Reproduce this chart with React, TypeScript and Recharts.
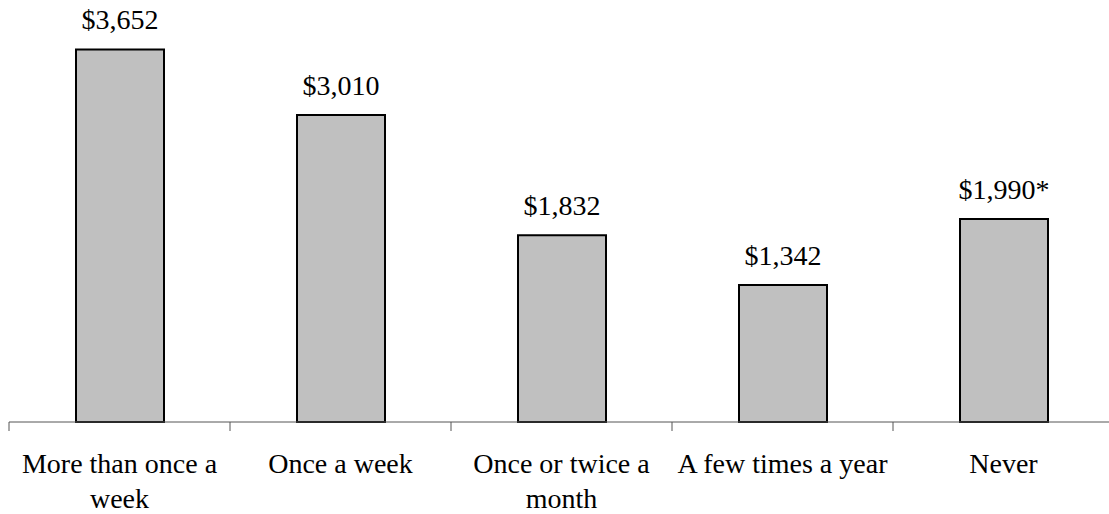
import React from "react";
import { BarChart, Bar, XAxis, YAxis, LabelList } from "recharts";

const categories = [
  "More than once a week",
  "Once a week",
  "Once or twice a month",
  "A few times a year",
  "Never",
];
const amounts = [3652, 3010, 1832, 1342, 1990];
const notes = ["", "", "", "", "*"];

const data = categories.map((name, i) => ({
  name,
  amount: amounts[i],
  label: "$" + amounts[i].toLocaleString("en-US") + notes[i],
}));

const W = 1120;
const H = 514;
const margin = { top: 14, right: 6, left: 9, bottom: 0 };
const band = (W - margin.left - margin.right) / categories.length;
const font = "Liberation Serif, DejaVu Serif";
const fontSize = 28;

// greedy word wrap measured with canvas so it follows the real font
function wrap(text: string, maxWidth: number): string[] {
  const ctx = document.createElement("canvas").getContext("2d");
  if (!ctx) return [text];
  ctx.font = `${fontSize}px ${font}`;
  const words = text.split(" ");
  const lines: string[] = [];
  let cur = "";
  words.forEach((w) => {
    const next = cur ? cur + " " + w : w;
    if (cur && ctx.measureText(next).width > maxWidth) {
      lines.push(cur);
      cur = w;
    } else {
      cur = next;
    }
  });
  if (cur) lines.push(cur);
  return lines;
}

function CategoryTick(props: any) {
  const { x, y, payload, index } = props;
  const lines = wrap(String(payload.value), band - 4);
  return (
    <g>
      <line x1={x - band / 2} y1={y} x2={x - band / 2} y2={y + 9} stroke="#555" strokeWidth={1} />
      {index === categories.length - 1 && (
        <line x1={x + band / 2} y1={y} x2={x + band / 2} y2={y + 9} stroke="#555" strokeWidth={1} />
      )}
      <text x={x} y={y + 51} textAnchor="middle" fill="#000" fontFamily={font} fontSize={fontSize}>
        {lines.map((l, i) => (
          <tspan key={i} x={x} dy={i === 0 ? 0 : 35}>
            {l}
          </tspan>
        ))}
      </text>
    </g>
  );
}

export default function App() {
  return (
    <div
      style={{
        position: "fixed",
        left: 0,
        top: 0,
        width: 1109,
        height: 514,
        overflow: "hidden",
        background: "#fff",
        fontFamily: font,
      }}
    >
      <BarChart width={W} height={H} data={data} margin={margin}>
        <XAxis
          dataKey="name"
          interval={0}
          tickLine={false}
          tickSize={0}
          tickMargin={0}
          height={92}
          axisLine={{ stroke: "#555", strokeWidth: 1 }}
          tick={<CategoryTick />}
        />
        <YAxis hide domain={[0, 4000]} />
        <Bar dataKey="amount" fill="#c0c0c0" stroke="#000" strokeWidth={2} barSize={88} isAnimationActive={false}>
          <LabelList
            dataKey="label"
            position="top"
            offset={20}
            fill="#000"
            fontFamily={font}
            fontSize={fontSize}
          />
        </Bar>
      </BarChart>
    </div>
  );
}
